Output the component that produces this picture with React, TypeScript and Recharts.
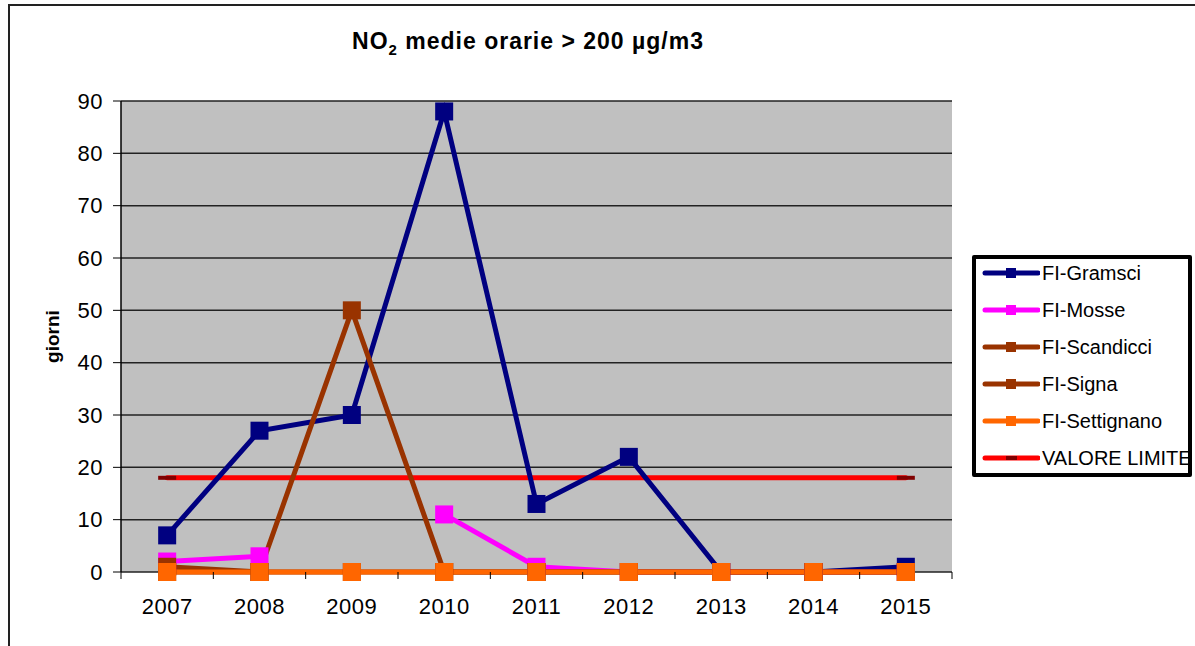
import React from 'react';
import { LineChart, Line, XAxis, YAxis, CartesianGrid } from 'recharts';

const years = ['2007', '2008', '2009', '2010', '2011', '2012', '2013', '2014', '2015'];
const gramsci = [7, 27, 30, 88, 13, 22, 0, 0, 1];
const mosse = [2, 3, null, 11, 1, 0, 0, 0, 0];
const scandicci = [1, 0, 50, 0, 0, 0, 0, 0, 0];
const signa = [0, 0, 0, 0, 0, 0, 0, 0, 0];
const settignano = [0, 0, 0, 0, 0, 0, 0, 0, 0];
const valoreLimite = [18, 18, 18, 18, 18, 18, 18, 18, 18];
const yTicks = [0, 10, 20, 30, 40, 50, 60, 70, 80, 90];

const FONT = '"Liberation Sans", Arial, sans-serif';

const series = [
  { key: 'gramsci', name: 'FI-Gramsci', color: '#000080', values: gramsci },
  { key: 'mosse', name: 'FI-Mosse', color: '#ff00ff', values: mosse },
  { key: 'scandicci', name: 'FI-Scandicci', color: '#993300', values: scandicci },
  { key: 'signa', name: 'FI-Signa', color: '#993300', values: signa },
  { key: 'settignano', name: 'FI-Settignano', color: '#ff6600', values: settignano },
];

const data = years.map((year, i) => {
  const row: any = { year, limite: valoreLimite[i] };
  series.forEach(s => { row[s.key] = s.values[i]; });
  return row;
});

const squareDot = (color: string) => (p: any) => {
  if (p.cx == null || p.cy == null || p.value == null) return <g key={p.index} />;
  return <rect key={p.index} x={p.cx - 9} y={p.cy - 9} width={18} height={18} fill={color} />;
};

// dash markers of the limit line only stick out at its two ends
const dashDot = (p: any) => {
  if (p.cx == null || p.cy == null) return <g key={p.index} />;
  if (p.index !== 0 && p.index !== years.length - 1) return <g key={p.index} />;
  return <rect key={p.index} x={p.cx - 9} y={p.cy - 2} width={18} height={4} fill="#800000" />;
};

const YearTick = (p: any) => {
  const { x, y, payload, index } = p;
  const half = payload.offset ?? 0;
  return (
    <g>
      <line x1={x - half} x2={x - half} y1={y} y2={y + 7} stroke="#000" />
      {index === years.length - 1 && (
        <line x1={x + half} x2={x + half} y1={y} y2={y + 7} stroke="#000" />
      )}
      <text x={x} y={y + 42} textAnchor="middle" fontSize={22} letterSpacing={0.5} fontFamily={FONT} fill="#000">
        {payload.value}
      </text>
    </g>
  );
};

function LegendBox() {
  const items = [
    ...series.map(s => ({ name: s.name, color: s.color, mark: s.color, dash: false })),
    { name: 'VALORE LIMITE', color: '#ff0000', mark: '#800000', dash: true },
  ];
  return (
    <div
      style={{
        position: 'absolute', left: 972, top: 255, width: 212, height: 214,
        border: '4px solid #000', borderRadius: 2, background: '#fff', fontFamily: FONT,
      }}
    >
      {items.map((it, i) => (
        <div key={it.name} style={{ position: 'absolute', left: 4, top: 2 + i * 37, height: 24, display: 'flex', alignItems: 'center' }}>
          <svg width={60} height={24}>
            <line x1={5} x2={58} y1={12} y2={12} stroke={it.color} strokeWidth={5} strokeLinecap="round" />
            {it.dash
              ? <rect x={26} y={10} width={11} height={4} fill={it.mark} />
              : <rect x={26} y={7} width={10} height={10} fill={it.mark} />}
          </svg>
          <span style={{ fontSize: 20, marginLeft: 2, whiteSpace: 'nowrap' }}>{it.name}</span>
        </div>
      ))}
    </div>
  );
}

export default function App() {
  return (
    <div style={{ position: 'absolute', left: 0, top: 0, width: 1195, height: 646, background: '#fff', overflow: 'hidden' }}>
      <div style={{ position: 'absolute', left: 8, top: 4, width: 1200, height: 700, borderLeft: '2px solid #222', borderTop: '2px solid #222' }} />
      <div style={{ position: 'absolute', left: 0, width: 1056, top: 28, textAlign: 'center', fontFamily: FONT, fontWeight: 'bold', fontSize: 23, letterSpacing: 1 }}>
        NO<sub style={{ fontSize: 15 }}>2</sub> medie orarie &gt; 200 µg/m3
      </div>
      <div style={{ position: 'absolute', left: 0, top: 0 }}>
        <LineChart width={1195} height={646} data={data} margin={{ top: 101, right: 243, bottom: 0, left: 21 }}>
          <CartesianGrid vertical={false} stroke="#222" fill="#c0c0c0" strokeWidth={1.5} />
          <XAxis
            dataKey="year"
            scale="band"
            height={74}
            tickLine={false}
            tickSize={0}
            tickMargin={0}
            axisLine={false}
            tick={<YearTick />}
            interval={0}
          />
          <YAxis
            width={100}
            domain={[0, 90]}
            ticks={yTicks}
            interval={0}
            tickSize={8}
            tickMargin={10}
            axisLine={{ stroke: '#000', strokeWidth: 1.5 }}
            tickLine={{ stroke: '#000' }}
            tick={{ fontSize: 22, fontFamily: FONT, fill: '#000', letterSpacing: 0.5 }}
            label={{ value: 'giorni', angle: -90, position: 'insideLeft', offset: 31, style: { fontSize: 19, fontWeight: 'bold', fontFamily: FONT, fill: '#000', textAnchor: 'middle' } }}
          />
          <YAxis yAxisId="border" orientation="right" width={0} tick={false} tickLine={false} axisLine={{ stroke: '#808080', strokeWidth: 2 }} domain={[0, 90]} />
          <Line dataKey="limite" stroke="none" dot={dashDot} isAnimationActive={false} legendType="none" />
          <Line dataKey="limite" stroke="#ff0000" strokeWidth={5} strokeLinecap="round" dot={false} isAnimationActive={false} />
          {series.map(s => (
            <Line
              key={s.key}
              dataKey={s.key}
              name={s.name}
              stroke={s.color}
              strokeWidth={5}
              dot={squareDot(s.color)}
              activeDot={false}
              isAnimationActive={false}
            />
          ))}
        </LineChart>
      </div>
      <LegendBox />
    </div>
  );
}
